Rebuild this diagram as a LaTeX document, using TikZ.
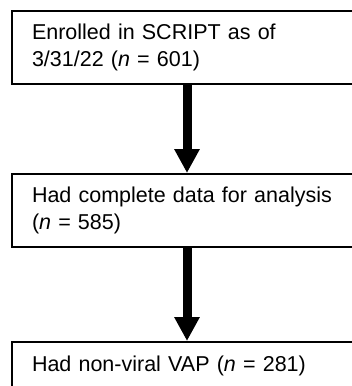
\documentclass[tikz,border=0pt]{standalone}
\usepackage{fontspec}
\setmainfont{Liberation Sans}
\usetikzlibrary{arrows.meta,positioning}

\begin{document}
\begin{tikzpicture}[x=1pt,y=-1pt,node distance=88pt,
    box/.style={draw,line width=2pt,minimum width=350pt,text width=310pt,
      inner xsep=20pt,align=left,font=\fontsize{21.5}{26.6}\selectfont},
    flow/.style={line width=9pt,-{Triangle[width=24pt,length=24pt]}}]

        \useasboundingbox (0,0) rectangle (352,386);

        \node[box,minimum height=73pt,anchor=north west] (enrol) at (11,10)
              {Enrolled in SCRIPT as of\\3/31/22 (\textit{n} = 601)};
        \node[box,minimum height=73pt] (data) [below=of enrol]
              {Had complete data for analysis\\(\textit{n} = 585)};
        \node[box,minimum height=47pt] (vap) [below=93pt of data]
              {Had non-viral VAP (\textit{n} = 281)};

        \draw[flow] (enrol) -- (data);
        \draw[flow] (data) -- (vap);
      \end{tikzpicture}
\end{document}
